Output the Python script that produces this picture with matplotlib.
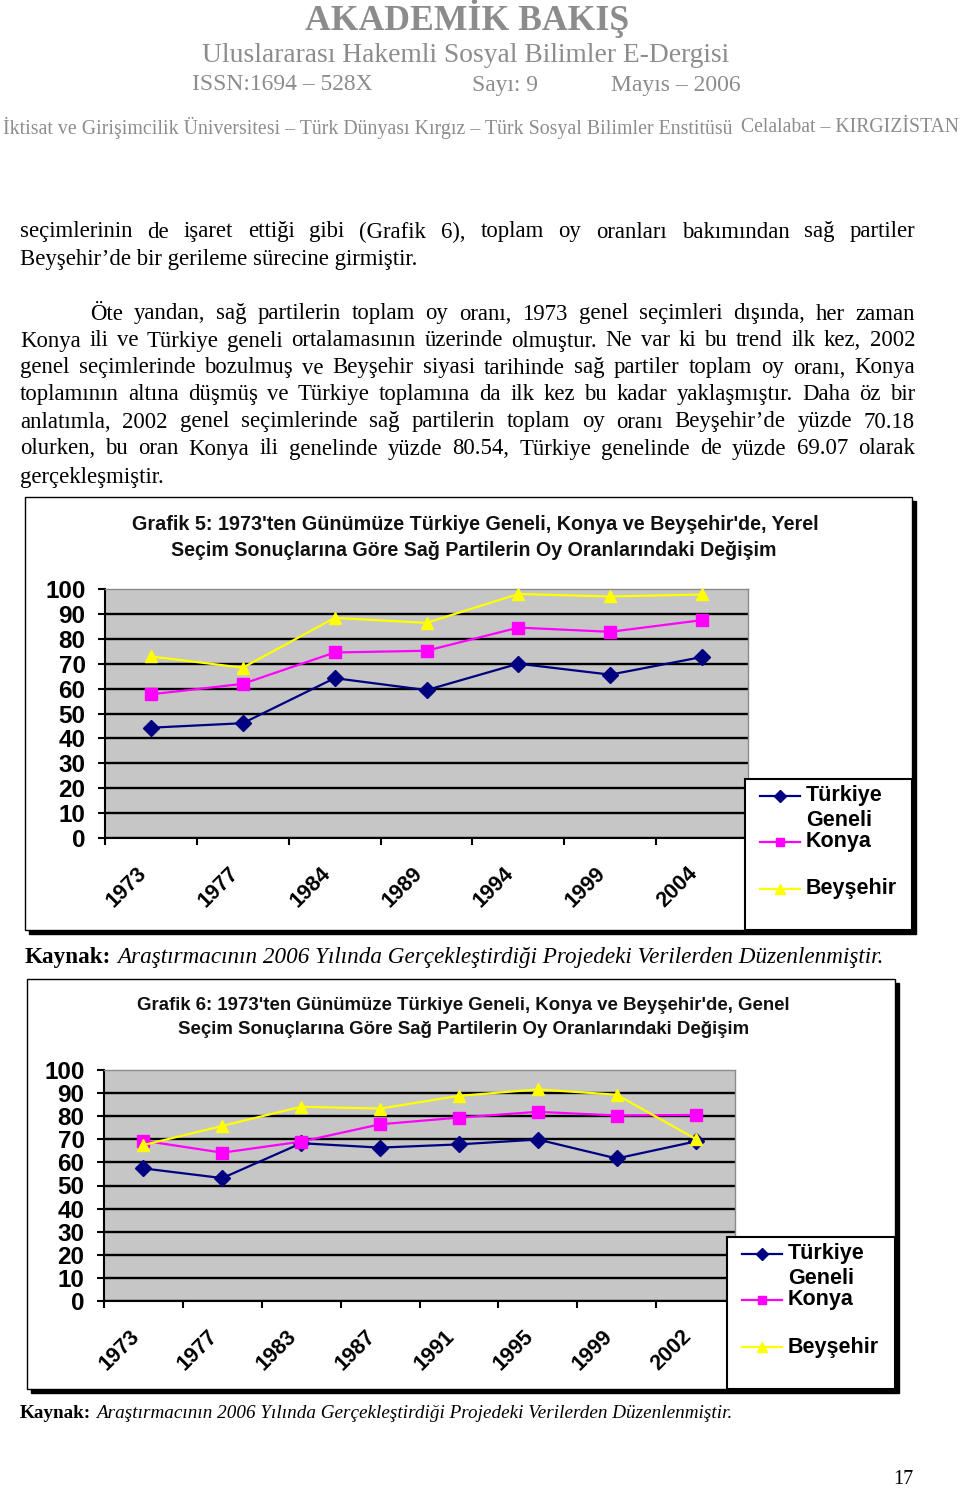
import matplotlib
matplotlib.use('Agg')
import matplotlib.pyplot as plt
from matplotlib.patches import Rectangle
from matplotlib.lines import Line2D


# Data - Grafik 5 (yerel secimler)
years5 = ['1973', '1977', '1984', '1989', '1994', '1999', '2004']
turkiye5 = [44.3, 46.1, 64.2, 59.4, 70.0, 65.6, 72.7]
konya5 = [57.7, 61.9, 74.5, 75.2, 84.5, 82.8, 87.5]
beysehir5 = [72.9, 68.4, 88.4, 86.4, 98.0, 97.0, 97.8]

# Data - Grafik 6 (genel secimler)
years6 = ['1973', '1977', '1983', '1987', '1991', '1995', '1999', '2002']
turkiye6 = [57.4, 53.2, 68.3, 66.4, 67.8, 69.9, 61.7, 69.07]
konya6 = [69.4, 64.2, 69.0, 76.5, 79.4, 81.9, 80.3, 80.54]
beysehir6 = [67.5, 75.8, 84.1, 83.3, 88.8, 91.6, 89.3, 70.18]

yticks = list(range(0, 101, 10))
series_names = ['Türkiye', 'Konya', 'Beyşehir']

title5 = ["Grafik 5: 1973'ten Günümüze Türkiye Geneli, Konya ve Beyşehir'de, Yerel",
          "Seçim Sonuçlarına Göre Sağ Partilerin Oy Oranlarındaki Değişim"]
title6 = ["Grafik 6: 1973'ten Günümüze Türkiye Geneli, Konya ve Beyşehir'de, Genel",
          "Seçim Sonuçlarına Göre Sağ Partilerin Oy Oranlarındaki Değişim"]

body = [
    "seçimlerinin de işaret ettiği gibi (Grafik 6), toplam oy oranları bakımından sağ partiler",
    "Beyşehir’de bir gerileme sürecine girmiştir.",
    "Öte yandan, sağ partilerin toplam oy oranı, 1973 genel seçimleri dışında, her zaman",
    "Konya ili ve Türkiye geneli ortalamasının üzerinde olmuştur. Ne var ki bu trend ilk kez, 2002",
    "genel seçimlerinde bozulmuş ve Beyşehir siyasi tarihinde sağ partiler toplam oy oranı, Konya",
    "toplamının altına düşmüş ve Türkiye toplamına da ilk kez bu kadar yaklaşmıştır. Daha öz bir",
    "anlatımla, 2002 genel seçimlerinde sağ partilerin toplam oy oranı Beyşehir’de yüzde 70.18",
    "olurken, bu oran Konya ili genelinde yüzde 80.54, Türkiye genelinde de yüzde 69.07 olarak",
    "gerçekleşmiştir.",
]
source = "Araştırmacının 2006 Yılında Gerçekleştirdiği Projedeki Verilerden Düzenlenmiştir."

SERIF = 'Liberation Serif'
SANS = 'Liberation Sans'
GRAY = '#8c8c8c'
styles = [dict(color='#000080', marker='D', markersize=8),
          dict(color='#FF00FF', marker='s', markersize=8),
          dict(color='#FFFF00', marker='^', markersize=9)]

W, H = 960, 1491
fig = plt.figure(figsize=(W / 100, H / 100), dpi=100)
r = fig.canvas.get_renderer()


def fx(x):
    return x / W


def fy(y):
    return 1 - y / H


def put(x, y, s, size, **kw):
    kw.setdefault('va', 'center')
    return fig.text(fx(x), fy(y), s, fontsize=size, **kw)


def width(t):
    return t.get_window_extent(r).width


def fit(x0, x1, y, s, size, **kw):
    t = put(x0, y, s, size, **kw)
    t.set_fontsize(size * (x1 - x0) / width(t))
    return t


def justify(x0, x1, y, line, size):
    words = line.split()
    ts = [put(0, y, w, size, family=SERIF) for w in words]
    ws = [width(t) for t in ts]
    gap = (x1 - x0 - sum(ws)) / (len(words) - 1)
    x = x0
    for t, w in zip(ts, ws):
        t.set_x(fx(x))
        x += w + gap


def caption(x0, x1, y, size):
    a = put(x0, y, 'Kaynak:', size, family=SERIF, weight='bold')
    b = put(x0, y, source, size, family=SERIF, style='italic')
    k = (x1 - x0) / (width(a) + width(b) + 0.25 * size * 100 / 72)
    a.set_fontsize(size * k)
    b.set_fontsize(size * k)
    b.set_x(fx(x0 + width(a) + 0.25 * size * k * 100 / 72))


# header
fit(305, 628, 18, 'AKADEMİK BAKIŞ', 22, family=SERIF, weight='bold', color=GRAY)
fit(202, 731, 55, 'Uluslararası Hakemli Sosyal Bilimler E-Dergisi', 17, family=SERIF, color=GRAY)
fit(192, 372, 85, 'ISSN:1694 – 528X', 16, family=SERIF, color=GRAY)
fit(472, 538, 85, 'Sayı: 9', 16, family=SERIF, color=GRAY)
fit(611, 741, 85, 'Mayıs – 2006', 16, family=SERIF, color=GRAY)
fit(3, 726, 128, 'İktisat ve Girişimcilik Üniversitesi – Türk Dünyası Kırgız – Türk Sosyal Bilimler Enstitüsü',
    13, family=SERIF, color=GRAY)
fit(741, 958, 128, 'Celalabat – KIRGIZİSTAN', 13, family=SERIF, color=GRAY)

# body text
bsize = fit(20, 419, 259, body[1], 14, family=SERIF).get_fontsize()
justify(20, 915, 232, body[0], bsize)
justify(90, 915, 314, body[2], bsize)
for i, y in zip(range(3, 8), [341, 368, 395, 422, 449]):
    justify(20, 915, y, body[i], bsize)
put(20, 477, body[8], bsize, family=SERIF)


def frame(x0, y0, x1, y1):
    fig.add_artist(Rectangle((fx(x0 + 4), fy(y1 + 4)), fx(x1 - x0), (y1 - y0) / H,
                             transform=fig.transFigure, facecolor='black', edgecolor='black', zorder=0))
    fig.add_artist(Rectangle((fx(x0), fy(y1)), fx(x1 - x0), (y1 - y0) / H,
                             transform=fig.transFigure, facecolor='white', edgecolor='black',
                             linewidth=1, zorder=0.1))


def chart(box, years, data, titles, tpos, legbox, legx, legy):
    x0, y0, x1, y1 = box
    ax = fig.add_axes([fx(x0), fy(y1), fx(x1 - x0), (y1 - y0) / H])
    ax.set_zorder(1)
    ax.set_facecolor('#c6c6c6')
    xs = range(len(years))
    for vals, st in zip(data, styles):
        ax.plot(xs, vals, linewidth=1.6, markeredgecolor=st['color'], zorder=3, **st)
    ax.set_xlim(-0.5, len(years) - 0.5)
    ax.set_ylim(0, 100)
    ax.set_yticks(yticks)
    ax.set_yticklabels([str(v) for v in yticks], fontsize=17.5, fontweight='bold', family=SANS)
    ax.tick_params(axis='y', length=5, width=1.5, pad=9, color='black')
    ax.set_xticks(list(xs))
    ax.set_xticklabels(years, rotation=45, ha='right', va='top', fontsize=15.5,
                       fontweight='bold', family=SANS)
    ax.set_xticks([k - 0.5 for k in range(len(years) + 1)], minor=True)
    ax.tick_params(axis='x', which='major', length=0, pad=18)
    ax.tick_params(axis='x', which='minor', length=5, width=1.5, color='black')
    ax.grid(axis='y', color='black', linewidth=1.7)
    ax.get_ygridlines()[-1].set_visible(False)
    for side in ['left', 'bottom']:
        ax.spines[side].set_color('black')
        ax.spines[side].set_linewidth(1.5)
    for side in ['top', 'right']:
        ax.spines[side].set_color('#8a8a8a')
        ax.spines[side].set_linewidth(1)

    # title
    for (a, b, y), s in zip(tpos, titles):
        fit(a, b, y, s, 13, family=SANS, weight='bold', color='#111111')

    # legend
    lx0, ly0, lx1, ly1 = legbox
    fig.add_artist(Rectangle((fx(lx0), fy(ly1)), fx(lx1 - lx0), (ly1 - ly0) / H,
                             transform=fig.transFigure, facecolor='white', edgecolor='black',
                             linewidth=1.5, zorder=2.5))
    labels = [['Türkiye', 'Geneli'], ['Konya'], ['Beyşehir']]
    for st, lab, yy in zip(styles, labels, legy):
        hs = dict(st, markersize=st['markersize'] * 0.8)
        fig.add_artist(Line2D([fx(legx), fx(legx + 20), fx(legx + 40)], [fy(yy)] * 3,
                              transform=fig.transFigure, linewidth=1.6, markevery=[1],
                              markeredgecolor=st['color'], zorder=4, **hs))
        for j, s in enumerate(lab):
            put(legx + 46, yy + 25 * j, s, 15.5, family=SANS, weight='bold')
    return ax


frame(25, 497, 912, 930)
chart((105, 589, 748, 838), years5, [turkiye5, konya5, beysehir5], title5,
      [(132, 815, 525), (171, 775, 551)], (745, 779, 912, 930), 760, [796, 842, 889])
caption(25, 885, 958, 15)

frame(27, 979, 895, 1389)
chart((104, 1070, 735, 1301), years6, [turkiye6, konya6, beysehir6], title6,
      [(137, 792, 1005), (178, 752, 1030)], (727, 1237, 895, 1389), 742, [1254, 1300, 1347])
caption(20, 732, 1414, 12)

put(893, 1480, '17', 14.5, family=SERIF)

fig.savefig('out.png', dpi=100)
